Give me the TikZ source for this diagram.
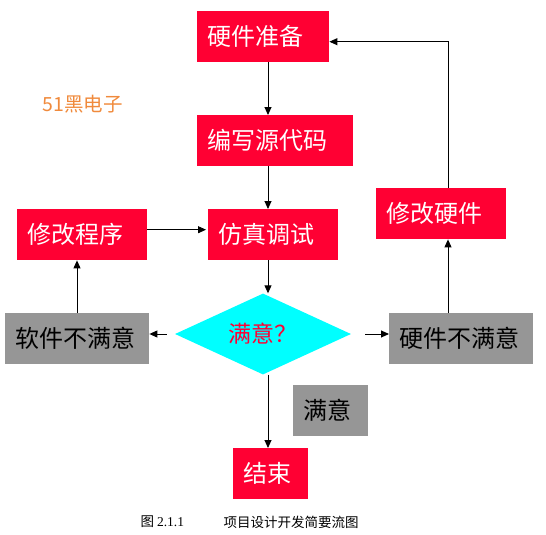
\documentclass[tikz,border=0pt]{standalone}
\usepackage{fontspec}
\setmainfont{Noto Sans CJK SC}
\newfontfamily\capserif{Liberation Serif}
\usetikzlibrary{arrows.meta,shapes.geometric}
\definecolor{Crimson}{HTML}{FF0033}
\definecolor{Slate}{HTML}{969696}
\definecolor{Aqua}{HTML}{00FFFF}
\definecolor{Amber}{HTML}{F08A3C}

\begin{document}
\begin{tikzpicture}[x=1pt,y=-1pt,
    box/.style={anchor=north west,minimum height=51pt,inner xsep=10pt,inner ysep=0pt,align=left,font=\fontsize{24}{28}\selectfont},
    redbox/.style={box,fill=Crimson,text=white},
    graybox/.style={box,fill=Slate,text=black},
    flow/.style={-{Triangle[length=8pt,width=7pt]},line width=.9pt}]
        \useasboundingbox (0,0) rectangle (546,535);
        \coordinate (spine) at (268,0);
        \coordinate (rail) at (448,0);
        % main column
        \node[redbox,text width=112pt] (prep) at (197,11) {硬件准备};
        \node[redbox,text width=136pt] (code) at (197,115) {编写源代码};
        \node[redbox,text width=110pt] (sim) at (208,209) {仿真调试};
        \node[diamond,aspect=2.2,fill=Aqua,minimum width=176pt,minimum height=81pt,inner sep=0pt,text=Crimson,font=\fontsize{23}{26}\selectfont] (happy) at (263,334) {满意？};
        \node[graybox,text width=55pt] (ok) at (293,385) {满意};
        \node[redbox,text width=55pt] (done) at (233,448) {结束};
        % side branches
        \node[redbox,text width=110pt] (fixsw) at (17,209) {修改程序};
        \node[graybox,text width=124pt] (swbad) at (5,313) {软件不满意};
        \node[redbox,text width=110pt] (fixhw) at (376,188) {修改硬件};
        \node[graybox,text width=124pt] (hwbad) at (389,313) {硬件不满意};
        \node[anchor=west,text=Amber,font=\fontsize{19.5}{22}\selectfont] (mark) at (39,104) {51黑电子};
        \node[anchor=west,font=\fontsize{13.5}{16}\selectfont] (fig) at (137,522) {图 {\capserif 2.1.1}};
        \node[anchor=west,font=\fontsize{13.5}{16}\selectfont] (title) at (220,522) {项目设计开发简要流图};
        % connectors
        \draw[flow] (spine |- prep.south) -- (spine |- code.north);
        \draw[flow] (spine |- code.south) -- (spine |- sim.north);
        \draw[flow] (spine |- sim.south) -- (spine |- happy.north);
        \draw[flow] (spine |- happy.south) -- (spine |- done.north);
        \draw[flow] ([xshift=-8pt]happy.west) -- (swbad.east |- happy.west);
        \draw[flow] ([xshift=14pt]happy.east) -- (hwbad.west |- happy.east);
        \draw[flow] (swbad.north -| 77,0) -- (fixsw.south -| 77,0);
        \draw[flow] ([yshift=5pt]fixsw.east) -- ([xshift=-2pt,yshift=5pt]sim.west);
        \draw[flow] (rail |- hwbad.north) -- (rail |- fixhw.south);
        \draw[flow] (rail |- fixhw.north) |- ([yshift=-5pt]prep.east);
      \end{tikzpicture}
\end{document}
